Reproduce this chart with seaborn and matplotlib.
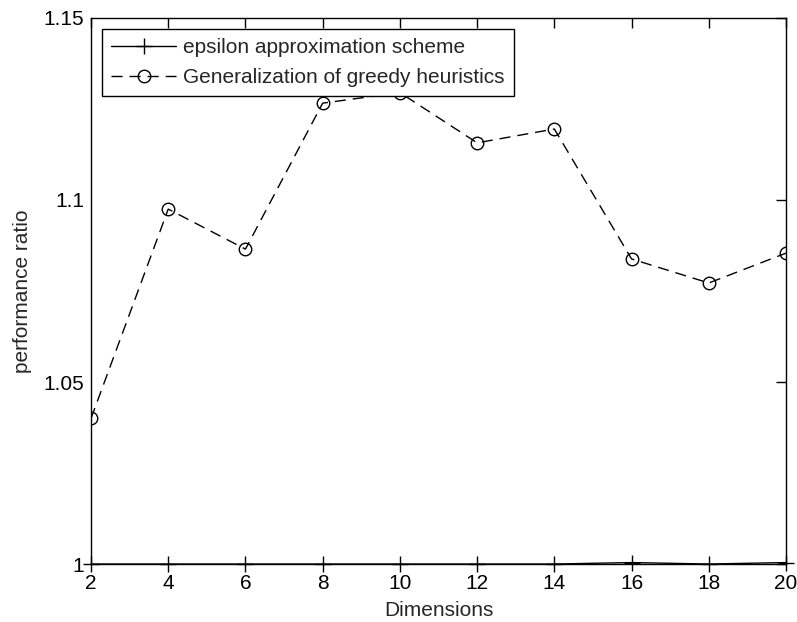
import pandas as pd
import matplotlib.pyplot as plt
import seaborn as sns
from matplotlib.ticker import FuncFormatter

dimensions = [2, 4, 6, 8, 10, 12, 14, 16, 18, 20]
epsilon_ratio = [1.0, 1.0, 1.0, 1.0, 1.0, 1.0, 1.0, 1.0004, 1.0, 1.0004]
greedy_ratio = [1.0400, 1.0975, 1.0865, 1.1266, 1.1295, 1.1157, 1.1195, 1.0838, 1.0772, 1.0854]

y_ticks = [1.0, 1.05, 1.1, 1.15]
x_ticks = dimensions

df = pd.DataFrame({
    'Dimensions': dimensions,
    'epsilon': epsilon_ratio,
    'greedy': greedy_ratio,
})

sns.set_style('white')
plt.rcParams['font.family'] = ['Liberation Sans', 'DejaVu Sans']
plt.rcParams['font.size'] = 15

fig = plt.figure(figsize=(7.97, 6.22), dpi=100)
ax = fig.add_axes([0.1142, 0.0932, 0.8720, 0.8779])

sns.lineplot(data=df, x='Dimensions', y='epsilon', ax=ax, color='black',
             linewidth=1.0, marker='+', markersize=12, markeredgewidth=1.0,
             markeredgecolor='black', markerfacecolor='black',
             label='epsilon approximation scheme', clip_on=False, zorder=3)
sns.lineplot(data=df, x='Dimensions', y='greedy', ax=ax, color='black',
             linewidth=1.0, linestyle=(0, (8, 5)), marker='o', markersize=9,
             markerfacecolor='none', markeredgecolor='black', markeredgewidth=1.0,
             label='Generalization of greedy heuristics', zorder=3)

ax.set_xlim(2, 20)
ax.set_ylim(1.0, 1.15)
ax.set_xticks(x_ticks)
ax.set_yticks(y_ticks)
ax.yaxis.set_major_formatter(FuncFormatter(lambda v, p: '%g' % round(v, 4)))
ax.tick_params(direction='in', length=7, width=1, top=True, right=True,
               labelsize=15, colors='black')
ax.tick_params(axis='x', pad=7)
ax.tick_params(axis='y', pad=5)
for s in ax.spines.values():
    s.set_color('black')
    s.set_linewidth(1.0)

ax.set_xlabel('Dimensions', fontsize=15, labelpad=6)
ax.set_ylabel('performance ratio', fontsize=15, labelpad=8)

leg = ax.legend(loc='upper left', borderaxespad=0.53, handlelength=3.1,
                handletextpad=0.35, numpoints=1, fancybox=False, framealpha=1,
                edgecolor='black', fontsize=15, borderpad=0.45, labelspacing=0.5)
leg.get_frame().set_linewidth(1.0)
leg.set_zorder(5)

fig.savefig('out.png', dpi=100)
